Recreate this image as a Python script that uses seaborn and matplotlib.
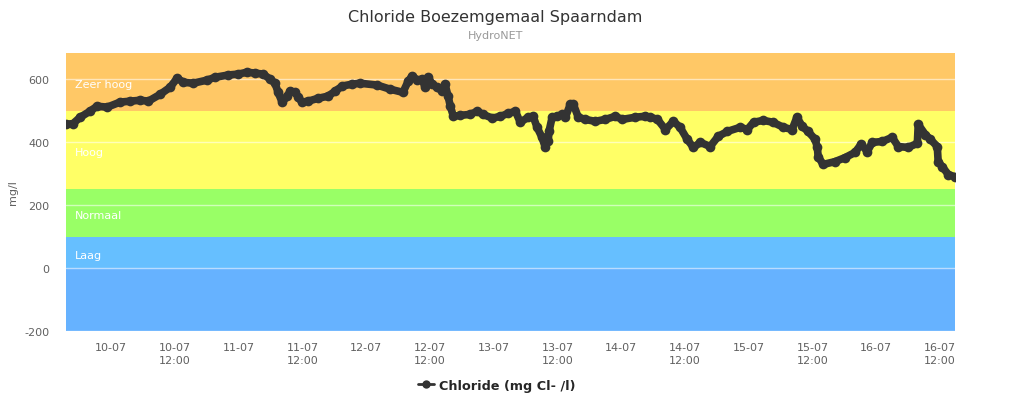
import pandas as pd
import numpy as np
import matplotlib
matplotlib.use("Agg")
import matplotlib.pyplot as plt
import matplotlib.dates as mdates
import seaborn as sns

# Chloride readings (mg Cl-/l)
times = [
    "2012-07-09 15:30", "2012-07-09 16:50", "2012-07-09 18:10", "2012-07-09 20:00",
    "2012-07-09 21:20", "2012-07-09 23:15", "2012-07-10 01:40", "2012-07-10 03:35",
    "2012-07-10 05:30", "2012-07-10 07:00", "2012-07-10 09:15", "2012-07-10 11:05",
    "2012-07-10 12:25", "2012-07-10 13:35", "2012-07-10 15:25", "2012-07-10 18:05",
    "2012-07-10 19:35", "2012-07-10 22:00", "2012-07-10 23:55", "2012-07-11 01:35",
    "2012-07-11 03:05", "2012-07-11 04:35", "2012-07-11 05:55", "2012-07-11 06:50",
    "2012-07-11 07:25", "2012-07-11 08:10", "2012-07-11 09:10", "2012-07-11 09:40",
    "2012-07-11 10:40", "2012-07-11 11:10", "2012-07-11 11:55", "2012-07-11 13:05",
    "2012-07-11 14:55", "2012-07-11 16:50", "2012-07-11 18:10", "2012-07-11 19:30",
    "2012-07-11 21:20", "2012-07-11 22:50", "2012-07-12 02:05", "2012-07-12 04:30",
    "2012-07-12 06:55", "2012-07-12 07:55", "2012-07-12 08:40", "2012-07-12 09:35",
    "2012-07-12 10:30", "2012-07-12 11:05", "2012-07-12 11:40", "2012-07-12 12:25",
    "2012-07-12 13:20", "2012-07-12 14:20", "2012-07-12 14:50", "2012-07-12 15:25",
    "2012-07-12 15:50", "2012-07-12 16:25", "2012-07-12 17:40", "2012-07-12 19:35",
    "2012-07-12 20:55", "2012-07-12 22:00", "2012-07-12 23:45", "2012-07-13 01:15",
    "2012-07-13 02:45", "2012-07-13 04:05", "2012-07-13 05:00", "2012-07-13 06:30",
    "2012-07-13 07:25", "2012-07-13 08:10", "2012-07-13 09:05", "2012-07-13 09:40",
    "2012-07-13 10:15", "2012-07-13 10:25", "2012-07-13 11:00", "2012-07-13 12:00",
    "2012-07-13 12:55", "2012-07-13 13:30", "2012-07-13 14:25", "2012-07-13 15:00",
    "2012-07-13 15:55", "2012-07-13 17:15", "2012-07-13 19:05", "2012-07-13 21:00",
    "2012-07-13 22:55", "2012-07-14 00:10", "2012-07-14 02:40", "2012-07-14 04:30",
    "2012-07-14 05:30", "2012-07-14 06:50", "2012-07-14 08:20", "2012-07-14 09:50",
    "2012-07-14 11:05", "2012-07-14 12:25", "2012-07-14 13:35", "2012-07-14 14:55",
    "2012-07-14 16:45", "2012-07-14 18:15", "2012-07-14 20:00", "2012-07-14 22:25",
    "2012-07-14 23:45", "2012-07-15 00:55", "2012-07-15 02:45", "2012-07-15 04:35",
    "2012-07-15 06:30", "2012-07-15 08:10", "2012-07-15 09:05", "2012-07-15 10:05",
    "2012-07-15 11:10", "2012-07-15 12:30", "2012-07-15 12:55", "2012-07-15 13:05",
    "2012-07-15 14:00", "2012-07-15 16:15", "2012-07-15 18:10", "2012-07-15 20:00",
    "2012-07-15 21:10", "2012-07-15 22:20", "2012-07-15 23:15", "2012-07-16 01:10",
    "2012-07-16 03:00", "2012-07-16 04:10", "2012-07-16 06:00", "2012-07-16 07:45",
    "2012-07-16 07:55", "2012-07-16 09:15", "2012-07-16 10:10", "2012-07-16 11:30",
    "2012-07-16 11:40", "2012-07-16 12:25", "2012-07-16 13:35", "2012-07-16 14:50",
]
chloride = [
    456, 459, 479, 498, 514, 511, 527, 530,
    533, 530, 552, 574, 603, 590, 587, 597,
    606, 613, 616, 622, 619, 616, 600, 587,
    558, 527, 546, 562, 558, 543, 527, 530,
    539, 546, 562, 578, 584, 587, 581, 568,
    558, 594, 610, 597, 600, 574, 606, 584,
    574, 562, 584, 546, 514, 482, 485, 488,
    498, 488, 476, 482, 491, 498, 463, 479,
    482, 447, 415, 386, 402, 434, 479, 482,
    488, 479, 520, 520, 479, 472, 466, 472,
    482, 472, 479, 482, 479, 472, 440, 466,
    447, 409, 383, 399, 386, 418, 434, 447,
    440, 463, 469, 463, 447, 440, 479, 450,
    434, 409, 383, 354, 329, 338, 351, 367,
    393, 370, 399, 402, 415, 386, 383, 396,
    456, 424, 409, 386, 338, 322, 297, 290,
]

# Plot bands (from, to, colour, label)
band_edges = [-200, 0, 100, 250, 500, 683]
band_colors = ["#66b2ff", "#66bfff", "#99ff66", "#ffff66", "#ffc866"]
band_labels = ["", "Laag", "Normaal", "Hoog", "Zeer hoog"]

y_ticks = [-200, 0, 200, 400, 600]

df = pd.DataFrame({"tijd": pd.to_datetime(times), "chloride": chloride})

sns.set_style("white")
plt.rcParams["font.family"] = ["DejaVu Sans"]
plt.rcParams["axes.unicode_minus"] = False

fig = plt.figure(figsize=(10.24, 4.10), dpi=100)
ax = fig.add_axes([0.0645, 0.1902, 0.8681, 0.6781])

# bands + labels
for i in range(len(band_colors)):
    lo, hi = band_edges[i], band_edges[i + 1]
    ax.axhspan(lo, hi, color=band_colors[i], lw=0, zorder=0)
    if band_labels[i]:
        ax.text(0.010, (lo + hi) / 2 - 7, band_labels[i], color="white",
                fontsize=8, va="center", ha="left",
                transform=ax.get_yaxis_transform(), zorder=1)

for t in y_ticks:
    ax.axhline(t, color="white", lw=1, alpha=0.55, zorder=1)

sns.lineplot(data=df, x="tijd", y="chloride", ax=ax, color="#333333",
             lw=5.5, marker="o", markersize=7, markeredgewidth=0,
             label="Chloride (mg Cl- /l)", zorder=3)
for line in ax.get_lines():
    line.set_solid_capstyle("round")
    line.set_solid_joinstyle("round")

ax.set_xlim(pd.Timestamp("2012-07-09 15:30"), pd.Timestamp("2012-07-16 14:50"))
ax.set_ylim(-200, 683)
ax.set_yticks(y_ticks)

ax.xaxis.set_major_locator(mdates.HourLocator(byhour=[0, 12]))


def fmt_date(x, pos=None):
    d = mdates.num2date(x)
    if d.hour == 0:
        return d.strftime("%d-%m")
    return d.strftime("%d-%m\n%H:%M")


ax.xaxis.set_major_formatter(plt.FuncFormatter(fmt_date))
ax.tick_params(axis="both", length=0, labelsize=8, labelcolor="#606060")
ax.tick_params(axis="x", pad=8)
ax.tick_params(axis="y", pad=12)
for lbl in ax.get_xticklabels():
    lbl.set_linespacing(1.3)

ax.set_xlabel("")
ax.set_ylabel("mg/l", fontsize=8, color="#606060")
ax.yaxis.set_label_coords(-0.054, 0.5)
for s in ax.spines.values():
    s.set_visible(False)
ax.grid(False)

fig.text(0.484, 0.957, "Chloride Boezemgemaal Spaarndam", ha="center", va="center",
         fontsize=11.5, color="#333333")
fig.text(0.484, 0.912, "HydroNET", ha="center", va="center",
         fontsize=8, color="#999999")

leg = ax.legend(loc="center", bbox_to_anchor=(0.485, 0.058),
                bbox_transform=fig.transFigure, frameon=False,
                prop={"weight": "bold", "size": 9.2}, handlelength=1.2,
                handletextpad=0.4)
for h in leg.get_lines():
    h.set_linewidth(2)
    h.set_markersize(6)

fig.savefig("out.png", dpi=100)
